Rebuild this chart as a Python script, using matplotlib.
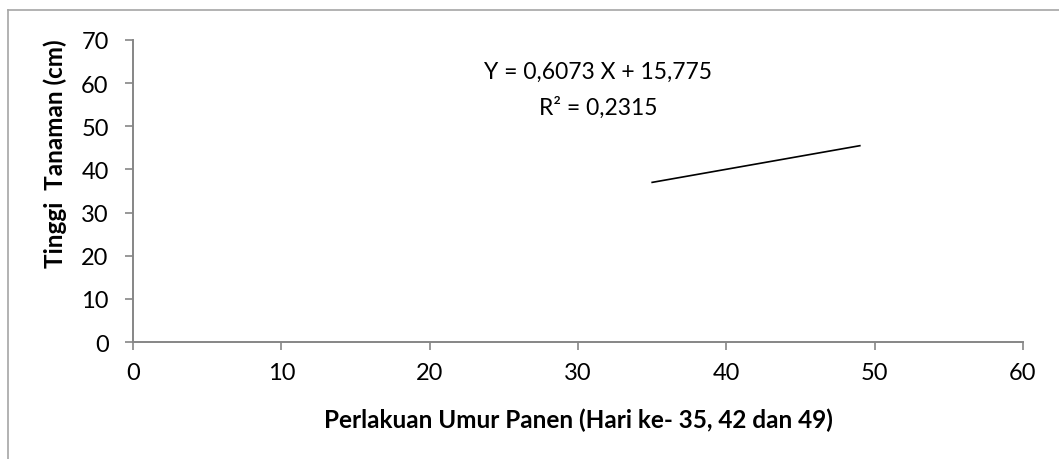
import matplotlib.pyplot as plt
from matplotlib.lines import Line2D

umur = [35, 49]
tinggi = [37.0, 45.5]
persamaan = "Y = 0,6073 X + 15,775"
r2 = "R² = 0,2315"

plt.rcParams['font.family'] = ['Lato', 'DejaVu Sans']

fig = plt.figure(figsize=(10.59, 4.60), dpi=100)
ax = fig.add_axes([0.1256, 0.2543, 0.8404, 0.6566])

ax.plot(umur, tinggi, color="black", linewidth=1.2)

ax.set_xlim(0, 60)
ax.set_ylim(0, 70)
ax.set_xticks(range(0, 61, 10))
ax.set_yticks(range(0, 71, 10))

for s in ["top", "right"]:
    ax.spines[s].set_visible(False)
for s in ["left", "bottom"]:
    ax.spines[s].set_color("#868686")
    ax.spines[s].set_linewidth(1.4)
ax.tick_params(direction="out", length=5.5, width=1.2, color="#868686",
               labelsize=17, labelcolor="black")
ax.tick_params(axis="x", pad=9)
ax.tick_params(axis="y", pad=12)

ax.set_xlabel("Perlakuan Umur Panen (Hari ke- 35, 42 dan 49)",
              fontsize=17.5, fontweight="bold", va="center")
ax.set_ylabel("Tinggi  Tanaman (cm)", fontsize=17.5, fontweight="bold",
              va="center")
ax.xaxis.set_label_coords(0.5, -0.255)
ax.yaxis.set_label_coords(-0.0876, 0.626)

ax.text(31.35, 62.8, persamaan, ha="center", va="center", fontsize=16.5)
ax.text(31.35, 54.6, r2, ha="center", va="center", fontsize=16.5)

# chart area border
fig.add_artist(Line2D([8 / 1059, 1], [1 - 11 / 460, 1 - 11 / 460],
                      color="#a6a6a6", linewidth=1.2, transform=fig.transFigure))
fig.add_artist(Line2D([8 / 1059, 8 / 1059], [0, 1 - 11 / 460],
                      color="#a6a6a6", linewidth=1.2, transform=fig.transFigure))

plt.savefig("out.png", dpi=100)
